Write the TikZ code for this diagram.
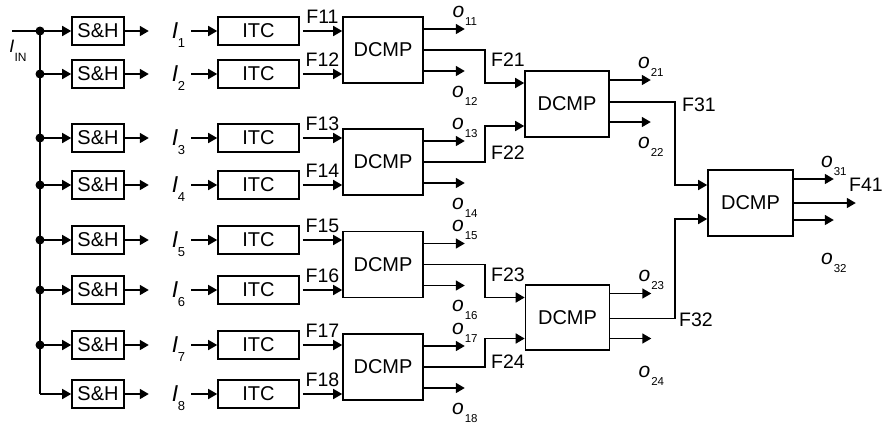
\documentclass[tikz,border=0pt]{standalone}
\usepackage{fontspec}
\setmainfont{Liberation Sans}
\usetikzlibrary{arrows.meta,calc}
\newcommand\Ilab[1]{{\fontsize{23}{23}\selectfont\itshape I}\kern-0.5pt\raisebox{-9.5pt}{\fontsize{13}{13}\selectfont #1}}
\newcommand\olab[1]{{\fontsize{21}{21}\selectfont\itshape o}\kern1pt\raisebox{-8pt}{\fontsize{11.5}{11.5}\selectfont #1}}
\tikzset{
  box/.style={draw, line width=1.6pt, minimum height=28pt, inner sep=0pt, font=\fontsize{20}{20}\selectfont},
  shbox/.style={box, minimum width=52pt},
  itcbox/.style={box, minimum width=81pt},
  dbox/.style={box, minimum width=80pt, minimum height=66pt},
  arr/.style={line width=1.6pt, -{Triangle[length=9pt,width=10pt]}},
  ln/.style={line width=1.6pt},
  flab/.style={font=\fontsize{19.5}{19.5}\selectfont, inner sep=0pt},
  olabup/.style={above=3pt, inner sep=0pt},
  olabdn/.style={below=14pt, inner sep=0pt},
  jdot/.style={circle, fill, inner sep=0pt, minimum size=9pt},
}
\begin{document}
\begin{tikzpicture}[x=1pt,y=-1pt]
\useasboundingbox (0,0) rectangle (882,424);
% input
\coordinate (in) at (12,31);
\node (iin) at (18,51) {{\fontsize{18}{18}\selectfont\itshape I}\raisebox{-9pt}{\fontsize{12}{12}\selectfont IN}};
% rows
\foreach \i/\y in {1/31,2/74,3/138,4/185,5/240,6/290,7/345,8/394} {
  \node[shbox] (sh\i) at (98,\y) {S\&H};
  \node[itcbox] (itc\i) at (258.5,\y) {ITC};
  \coordinate (b\i) at (40,\y);
  \node[inner sep=0pt] (il\i) at (178.5,\y+4) {\Ilab{\i}};
  \draw[arr] (sh\i.east) -- ++(24,0);
  \draw[arr] ([xshift=-26pt]itc\i.west) -- (itc\i.west);
  \draw[arr] (b\i) -- (sh\i.west);
}
\draw[ln] (in) -- (b1);
\draw[ln] (b1) -- (b8);
\foreach \i in {1,...,7} \node[jdot] (dot\i) at (b\i) {};
% DCMP boxes
\node[dbox] (d1) at (383,50) {DCMP};
\node[dbox] (d2) at (383,162) {DCMP};
\node[dbox] (d3) at (383,264.5) {DCMP};
\node[dbox] (d4) at (383,367) {DCMP};
\node[dbox, minimum width=84pt] (d5) at (567,104) {DCMP};
\node[dbox, minimum width=84pt, minimum height=65pt] (d6) at (567.5,317.5) {DCMP};
\node[dbox, minimum width=85pt] (d7) at (750.5,203) {DCMP};
% ITC -> DCMP
\foreach \i/\d in {1/1,2/1,3/2,4/2,5/3,6/3,7/4,8/4}
  \draw[arr] ([xshift=3pt]itc\i.east) -- (itc\i.east -| d\d.west) node[midway, above=7pt, flab] {F1\i};
% level-1 outputs
\foreach \d/\a/\b in {1/11/12,2/13/14,3/15/16,4/17/18} {
  \draw[arr] ([yshift=21pt]d\d.east) -- ++(41,0) node[olabup] {\olab{\a}};
  \draw[arr] ([yshift=-21pt]d\d.east) -- ++(41,0) node[olabdn] {\olab{\b}};
}
% junction columns
\coordinate (j1) at (485,0);
\coordinate (j2) at (675,0);
\draw[arr] (d1.east) -- (d1.east -| j1) |- ([yshift=21pt]d5.west);
\draw[arr] (d2.east) -- (d2.east -| j1) |- ([yshift=-22pt]d5.west);
\draw[arr] (d3.east) -- (d3.east -| j1) |- ([yshift=20pt]d6.west);
\draw[arr] (d4.east) -- (d4.east -| j1) |- ([yshift=-21pt]d6.west);
\node[flab] (f21) at (508,60) {F21};
\node[flab] (f22) at (508,153) {F22};
\node[flab] (f23) at (508,275) {F23};
\node[flab] (f24) at (508,362) {F24};
% level-2 outputs
\draw[arr] ([yshift=24pt]d5.east) -- ++(41,0) node[olabup] {\olab{21}};
\draw[arr] ([yshift=-18pt]d5.east) -- ++(41,0) node[olabdn] {\olab{22}};
\draw[arr] ([yshift=24pt]d6.east) -- ++(41,0) node[olabup] {\olab{23}};
\draw[arr] ([yshift=-21pt]d6.east) -- ++(41,0) node[olabdn, below=13pt] {\olab{24}};
\draw[arr] ([yshift=2pt]d5.east) -- ([yshift=2pt]d5.east -| j2) |- ([yshift=18pt]d7.west);
\draw[arr] ([yshift=-1pt]d6.east) -- ([yshift=-1pt]d6.east -| j2) |- ([yshift=-16pt]d7.west);
\node[flab] (f31) at (699,105) {F31};
\node[flab] (f32) at (696,320) {F32};
% final outputs
\draw[arr] ([yshift=24pt]d7.east) -- ++(40,0) node[olabup] {\olab{31}};
\draw[arr] (d7.east) -- ++(62,0);
\draw[arr] ([yshift=-17pt]d7.east) -- ++(40,0) node[olabdn, below=18pt] {\olab{32}};
\node[flab] (f41) at (866,185) {F41};
\end{tikzpicture}
\end{document}
